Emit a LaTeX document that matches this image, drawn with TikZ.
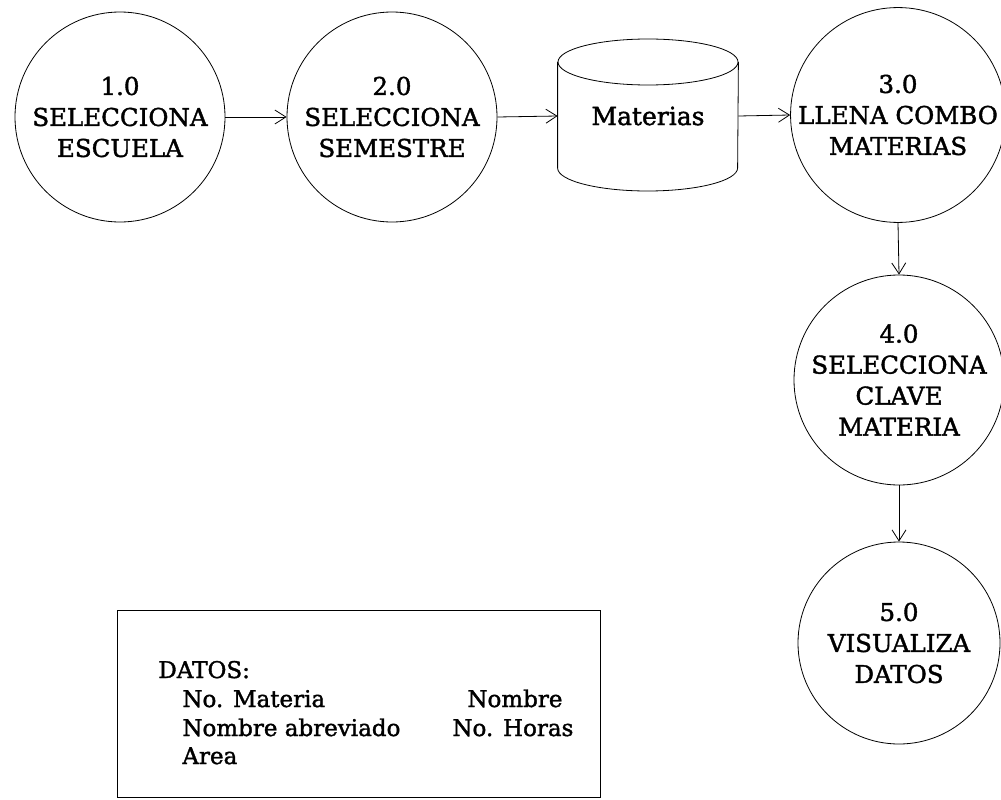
\documentclass[tikz,border=0pt]{standalone}
\usepackage{fontspec}
\setmainfont{DejaVu Serif}[FakeBold=1.6]
\usetikzlibrary{arrows.meta}
\begin{document}
\begin{tikzpicture}[x=1pt,y=-1pt, line width=0.8pt,
  proc/.style={circle, draw, inner sep=0pt, align=center, font=\fontsize{24.5}{31}\selectfont},
  flow/.style={-{Straight Barb[length=11pt,width=14pt]}},
  dato/.style={anchor=base west, inner sep=0pt, font=\fontsize{23}{25}\selectfont}]
\useasboundingbox (0,0) rectangle (1001,800);
\node[proc, minimum size=210pt] (p1) at (120,117) {1.0\\SELECCIONA\\ESCUELA};
\node[proc, minimum size=210pt] (p2) at (392,117) {2.0\\SELECCIONA\\SEMESTRE};
\node[minimum width=180pt, minimum height=106pt, inner sep=0pt, font=\fontsize{25}{28}\selectfont] (mat) at (648,116) {Materias};
\draw (mat.west |- 0,62) -- (mat.west |- 0,168)
      arc[start angle=180, end angle=360, x radius=90pt, y radius=23pt]
      -- (mat.east |- 0,62);
\draw (648,62) ellipse [x radius=90pt, y radius=23pt];
\node[proc, minimum size=206pt] (p3) at (898,115) {3.0\\LLENA COMBO\\MATERIAS};
\node[proc, minimum size=210pt] (p4) at (899,380) {4.0\\SELECCIONA\\CLAVE\\MATERIA};
\node[proc, minimum size=202pt] (p5) at (899,643) {5.0\\VISUALIZA\\DATOS};
\draw[flow] (p1.east) -- (p2.west);
\draw[flow] (p2.east) -- (mat.west);
\draw[flow] (mat.east) -- (p3.west);
\draw[flow] (p3.south) -- (p4.north);
\draw[flow] (p4.south) -- (p5.north);
\node[draw, anchor=north west, minimum width=483pt, minimum height=187pt, inner sep=0pt] (box) at (117,610) {};
\node[dato] (d0) at (158,678) {DATOS:};
\node[dato] (d1) at (182,707) {No. Materia};
\node[dato] (d2) at (182,736) {Nombre abreviado};
\node[dato] (d3) at (182,764) {Area};
\node[dato] (d4) at (467,707) {Nombre};
\node[dato] (d5) at (452,736) {No. Horas};
\end{tikzpicture}
\end{document}
